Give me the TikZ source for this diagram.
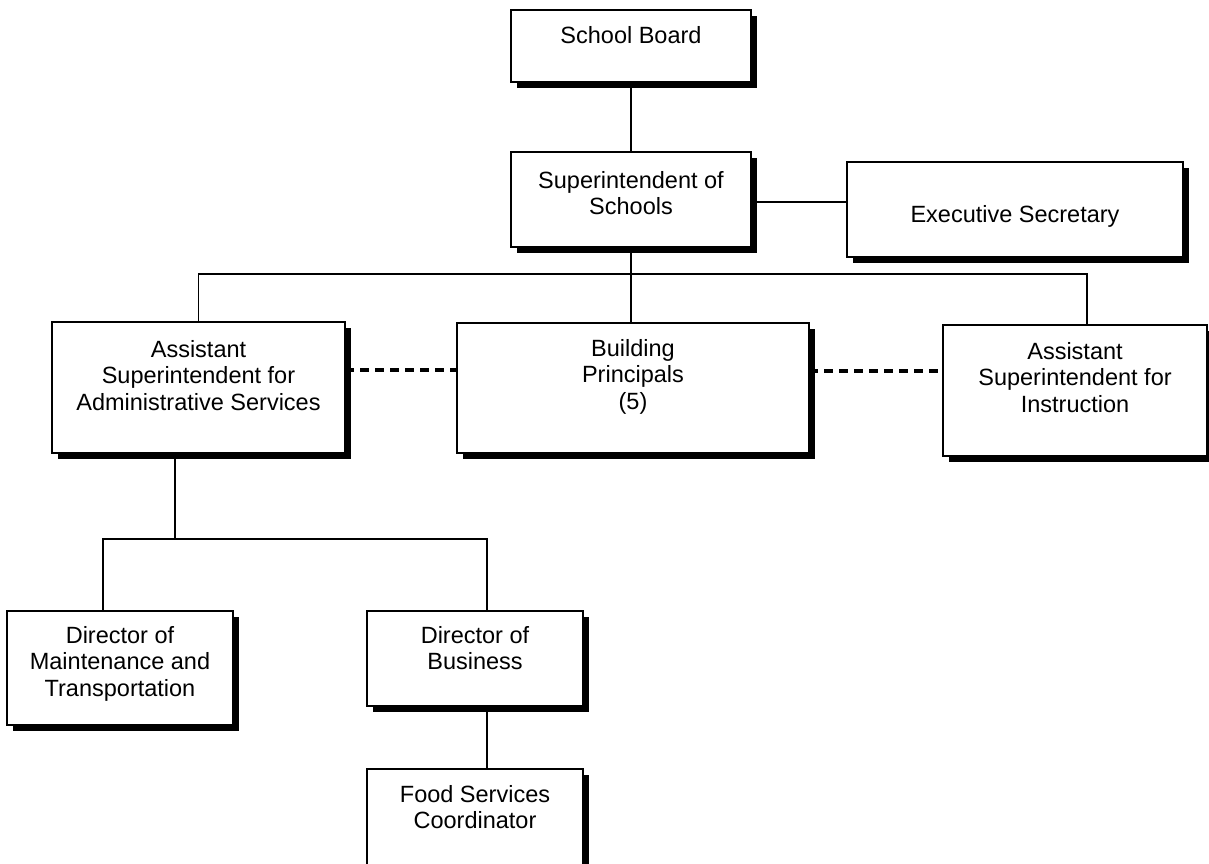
\documentclass[tikz,border=0pt]{standalone}
\usepackage{fontspec}
\setmainfont{Liberation Sans}
\usetikzlibrary{shadows,backgrounds}
\begin{document}
\begin{tikzpicture}[x=1pt,y=-1pt,
  box/.style={draw=black, line width=1.2pt, fill=white, rectangle,
    inner sep=0pt, outer sep=0pt, anchor=north west,
    drop shadow={shadow xshift=6pt, shadow yshift=-6pt, fill=black, opacity=1}},
  txt/.style={anchor=north, inner sep=0pt, align=center,
    font=\fontsize{23.5}{26.5}\selectfont},
  conn/.style={draw=black, line width=1.3pt},
  dashlink/.style={draw=black, line width=3.2pt, dash pattern=on 9pt off 6pt}]
\clip (0,0) rectangle (1209,863);
\useasboundingbox (0,0) rectangle (1209,863);

% boxes
\node[box, minimum width=240pt, minimum height=72pt]  (sb)   at (511,10)  {};
\node[box, minimum width=240pt, minimum height=95pt]  (sup)  at (511,152) {};
\node[box, minimum width=336pt, minimum height=95pt]  (exec) at (847,162) {};
\node[box, minimum width=293pt, minimum height=131pt] (adm)  at (52,322)  {};
\node[box, minimum width=352pt, minimum height=130pt] (bp)   at (457,323) {};
\node[box, minimum width=264pt, minimum height=131pt] (ins)  at (943,325) {};
\node[box, minimum width=226pt, minimum height=114pt] (mnt)  at (7,611)   {};
\node[box, minimum width=216pt, minimum height=95pt]  (bus)  at (367,611) {};
\node[box, minimum width=216pt, minimum height=120pt] (food) at (367,769) {};

% box titles
\node[txt] (sbT)   at ([yshift=-16pt]sb.north)   {School Board};
\node[txt] (supT)  at ([yshift=-19pt]sup.north)  {Superintendent of\\Schools};
\node[txt] (execT) at ([yshift=-43pt]exec.north) {Executive Secretary};
\node[txt] (admT)  at ([yshift=-18pt]adm.north)  {Assistant\\Superintendent for\\Administrative Services};
\node[txt] (bpT)   at ([yshift=-16pt]bp.north)   {Building\\Principals\\(5)};
\node[txt] (insT)  at ([yshift=-17pt]ins.north)  {Assistant\\Superintendent for\\Instruction};
\node[txt] (mntT)  at ([yshift=-15pt]mnt.north)  {Director of\\Maintenance and\\Transportation};
\node[txt] (busT)  at ([yshift=-15pt]bus.north)  {Director of\\Business};
\node[txt] (foodT) at ([yshift=-16pt]food.north) {Food Services\\Coordinator};

% junction points of the tree
\coordinate (topbar) at (631,274);
\coordinate (lowbar) at (175,539);

\begin{scope}[on background layer]
  \draw[conn] (sb.south) -- (sup.north);
  \draw[conn] ([yshift=-2.5pt]sup.east) -- ([yshift=-2.5pt]sup.east -| exec.west);
  \draw[conn] (sup.south) -- (topbar);
  \draw[conn] (adm.north) |- (topbar);
  \draw[conn] (topbar) -- (topbar |- bp.north);
  \draw[conn] (topbar) -| ([xshift=12pt]ins.north);
  \draw[dashlink] ([yshift=17.5pt]adm.east) -- ([yshift=17.5pt]adm.east -| bp.west);
  \draw[dashlink] ([yshift=17pt]bp.east) -- ([yshift=17pt]bp.east -| ins.west);
  \draw[conn] (adm.south -| lowbar) -- (lowbar);
  \draw[conn] (lowbar) -| ([xshift=-17pt]mnt.north);
  \draw[conn] (lowbar) -| ([xshift=12pt]bus.north);
  \draw[conn] ([xshift=12pt]bus.south) -- ([xshift=12pt]food.north);
\end{scope}
\end{tikzpicture}
\end{document}
